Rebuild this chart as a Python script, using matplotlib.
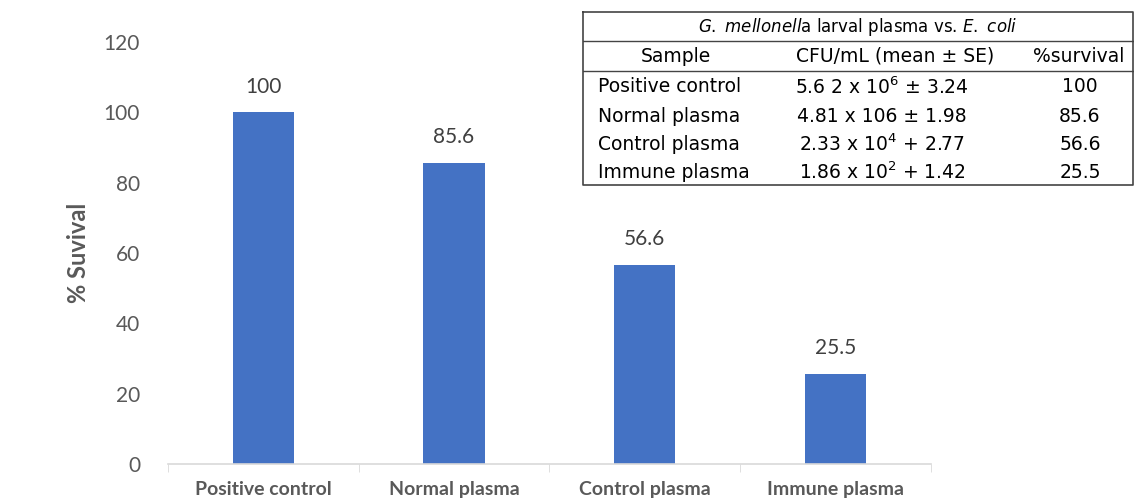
import numpy as np
import matplotlib
matplotlib.use("Agg")
import matplotlib.pyplot as plt

# data
samples = ["Positive control", "Normal plasma", "Control plasma", "Immune plasma"]
survival = [100, 85.6, 56.6, 25.5]
cfu_text = [r"5.6 2 x 10$^{6}$ ± 3.24",
            r"4.81 x 106 ± 1.98",
            r"2.33 x 10$^{4}$ + 2.77",
            r"1.86 x 10$^{2}$ + 1.42"]
survival_text = ["100", "85.6", "56.6", "25.5"]
table_title = r"$\mathit{G.\ mellonell}$a larval plasma vs. $\mathit{E.\ coli}$"
table_header = ["Sample", "CFU/mL (mean ± SE)", "%survival"]

plt.rcParams['font.family'] = ['Lato', 'DejaVu Sans']
plt.rcParams['mathtext.fontset'] = 'dejavusans'

bar_color = '#4472C4'
tick_color = '#595959'

fig = plt.figure(figsize=(11.34, 5.01), dpi=100)
ax = fig.add_axes([0.148, 0.074, 0.673, 0.842])

x = np.arange(len(samples))
bars = ax.bar(x, survival, width=0.32, color=bar_color)
for b, v in zip(bars, survival):
    ax.text(b.get_x() + b.get_width() / 2, v + 4.5, f"{v:g}",
            ha='center', va='bottom', fontsize=15, color='#404040')

ax.set_xlim(-0.5, len(samples) - 0.5)
ax.set_ylim(0, 120)
ax.set_yticks(np.arange(0, 121, 20))
ax.tick_params(axis='y', length=0, labelsize=15, colors=tick_color, pad=20)
ax.set_xticks(x)
ax.set_xticklabels(samples, fontsize=14, fontweight='bold', color=tick_color)
ax.tick_params(axis='x', length=0, pad=12)
ax.set_xticks(np.arange(-0.5, len(samples)), minor=True)
ax.tick_params(axis='x', which='minor', length=6, direction='out', color='#D9D9D9')
for s in ['top', 'right', 'left']:
    ax.spines[s].set_visible(False)
ax.spines['bottom'].set_color('#D9D9D9')
ax.spines['bottom'].set_linewidth(1.2)
ax.set_ylabel("% Suvival", fontsize=17, fontweight='bold', color=tick_color, labelpad=10)

# inset table
tax = fig.add_axes([583 / 1134, 1 - 186 / 501, 551 / 1134, 174 / 501])
tax.set_xlim(583, 1134)
tax.set_ylim(186, 12)
tax.axis('off')
lc = '#444444'
tax.plot([583, 1133, 1133, 583, 583], [12, 12, 185, 185, 12], color=lc, lw=1.2, clip_on=False)
tax.plot([583, 1133], [41, 41], color=lc, lw=1.0)
tax.plot([583, 1133], [71, 71], color=lc, lw=1.0)

tfs = 13.5
tax.text(858, 27, table_title, ha='center', va='center', fontsize=12, family='DejaVu Sans')
hx = [676, 895, 1079]
for hxi, h in zip(hx, table_header):
    tax.text(hxi, 56, h, ha='center', va='center', fontsize=tfs, family='DejaVu Sans')
row_y = [87, 116, 144, 172]
for ry, s, c, p in zip(row_y, samples, cfu_text, survival_text):
    tax.text(598, ry, s, ha='left', va='center', fontsize=tfs, family='DejaVu Sans')
    tax.text(882, ry, c, ha='center', va='center', fontsize=tfs, family='DejaVu Sans')
    tax.text(1080, ry, p, ha='center', va='center', fontsize=tfs, family='DejaVu Sans')

fig.savefig("out.png", dpi=100)
